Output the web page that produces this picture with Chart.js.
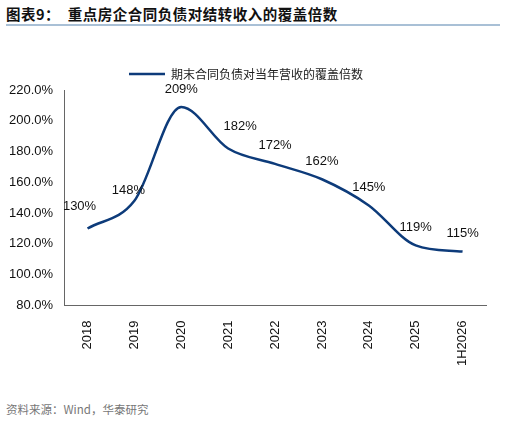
<!DOCTYPE html>
<html><head><meta charset="utf-8">
<script src="https://cdn.jsdelivr.net/npm/chart.js@4"></script>
<style>
body{margin:0;width:506px;height:424px;background:#fff;font-family:"Noto Sans CJK SC",sans-serif;overflow:hidden}
#t{position:absolute;left:6px;top:3px;font-size:14.5px;font-weight:bold;color:#111;letter-spacing:0.5px}
#rule{position:absolute;left:6px;top:24px;width:494px;height:2px;background:#a9c0d6}
#w{position:absolute;left:0;top:34px;width:506px;height:362px}
#s{position:absolute;left:6px;top:401px;font-size:11.5px;color:#777}
</style></head><body>
<div id="t">图表9：&nbsp;&nbsp;重点房企合同负债对结转收入的覆盖倍数</div>
<div id="rule"></div>
<div id="w"><canvas id="c"></canvas></div>
<div id="s">资料来源：Wind，华泰研究</div>
<script>
// 数据
const anos = ['2018','2019','2020','2021','2022','2023','2024','2025','1H2026'];
const cobertura = [130,148,209,182,172,162,145,119,115];
const serie = '期末合同负债对当年营收的覆盖倍数';

const rotulos = {
  id:'rotulos',
  afterDatasetsDraw(chart){
    const ctx = chart.ctx;
    const pts = chart.getDatasetMeta(0).data;
    ctx.save();
    ctx.font = '13px "Liberation Sans", Arial';
    ctx.fillStyle = '#111';
    ctx.textAlign = 'center';
    pts.forEach((p,i) => {
      let dx = 0, dy = -18;
      if (i === 0) { dx = -8; dy = -22; }
      if (i === 1) { dx = -6; dy = -10; }
      if (i === 3) { dx = 12; dy = -22; }
      ctx.fillText(cobertura[i] + '%', p.x + dx, p.y + dy);
    });
    ctx.restore();
  }
};

new Chart(document.getElementById('c'), {
  type:'line',
  data:{ labels: anos, datasets:[{
    label: serie, data: cobertura,
    borderColor:'#0d3b7a', borderWidth:2.5, pointRadius:0,
    cubicInterpolationMode:'monotone', fill:false
  }]},
  options:{
    responsive:true, maintainAspectRatio:false, animation:false,
    layout:{padding:{left:6,right:20,top:0,bottom:20}},
    plugins:{
      legend:{labels:{boxWidth:36,boxHeight:0,color:'#222',
        font:{family:'"Noto Sans CJK SC"',size:12}, padding:34}},
      tooltip:{enabled:false}
    },
    scales:{
      x:{offset:true, grid:{display:false, drawTicks:true, tickLength:5, color:'#666'},
        border:{color:'#666'},
        ticks:{padding:10,color:'#111',maxRotation:90,minRotation:90,font:{family:'"Liberation Sans"',size:13}}},
      y:{min:80,max:220, grid:{display:false}, border:{color:'#666'},
        ticks:{stepSize:20,color:'#111',font:{family:'"Liberation Sans"',size:13},
          callback:v => v.toFixed(1) + '%'}}
    }
  },
  plugins:[rotulos]
});
</script>
</body></html>
